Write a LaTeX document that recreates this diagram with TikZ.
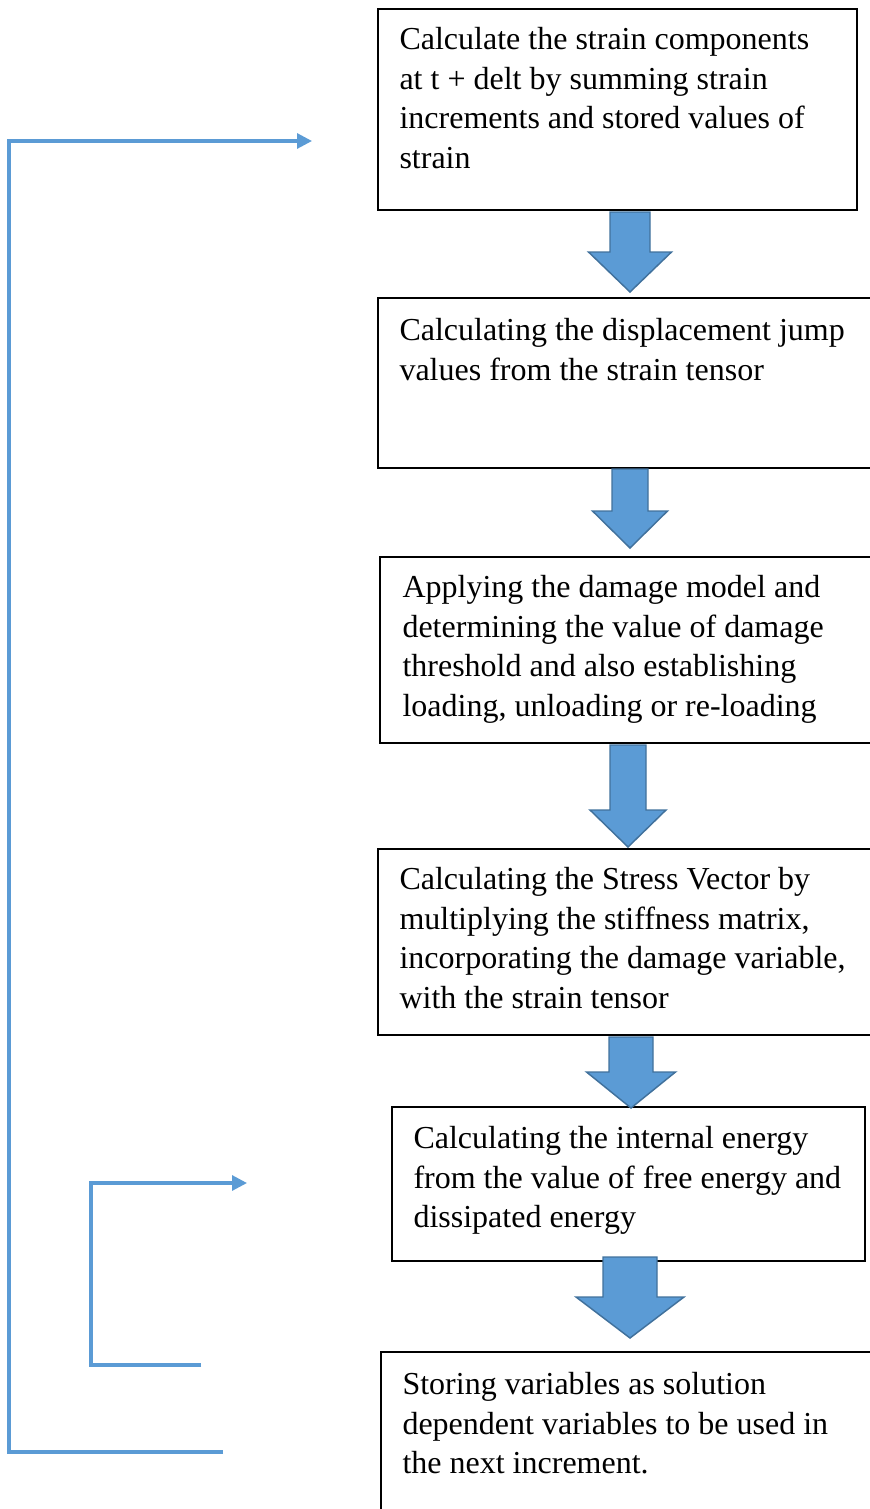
\documentclass[tikz,border=0pt]{standalone}
\usepackage{fontspec}
\setmainfont{Liberation Serif}
\usetikzlibrary{
    arrows.meta,    % arrow tips
    positioning,    % relative placement
    calc            % coordinate arithmetic
}
\newlength{\pxu}
\setlength{\pxu}{0.375pt}
\definecolor{flowblue}{HTML}{5B9BD5}
\definecolor{flowedge}{HTML}{41719C}
% block arrow: centre x, top, head y, tip, shaft half width, head half width
\newcommand{\blockarrow}[6]{%
    \draw[blockstyle] (#1-#5,#2) -- (#1+#5,#2) -- (#1+#5,#3) -- (#1+#6,#3)
        -- (#1,#4) -- (#1-#6,#3) -- (#1-#5,#3) -- cycle;}

\begin{document}
\begin{tikzpicture}[
    x=\pxu, y=-\pxu,
    flowbox/.style={draw=black, line width=0.6pt, anchor=north west,
        inner sep=0pt, outer sep=0pt},
    boxtext/.style={anchor=north west, inner sep=0pt, align=left,
        font=\fontsize{12}{14.8}\selectfont},
    blockstyle/.style={fill=flowblue, draw=flowedge, line width=0.55pt},
    loopline/.style={draw=flowblue, line width=1.15pt,
        -{Triangle[length=5.6pt,width=5.6pt]}}
]
    \useasboundingbox (0,0) rectangle (869,1509);

    % boxes of the flow
    \node[flowbox, line width=0.8pt, minimum width=479\pxu, minimum height=201\pxu] (box1) at (378,9) {};
    \node[flowbox, minimum width=500\pxu, minimum height=170\pxu] (box2) at (378,298) {};
    \node[flowbox, minimum width=500\pxu, minimum height=186\pxu] (box3) at (380,557) {};
    \node[flowbox, minimum width=500\pxu, minimum height=186\pxu] (box4) at (378,849) {};
    \node[flowbox, minimum width=473\pxu, minimum height=154\pxu] (box5) at (392,1107) {};
    \node[flowbox, minimum width=500\pxu, minimum height=180\pxu] (box6) at (381,1352) {};

    % texts in the boxes
    \node[boxtext] (text1) at ($(box1.north west)+(21,18)$)
        {Calculate the strain components\\at t + delt by summing strain\\increments and stored values of\\strain};
    \node[boxtext] (text2) at ($(box2.north west)+(21,20)$)
        {Calculating the displacement jump\\values from the strain tensor};
    \node[boxtext] (text3) at ($(box3.north west)+(22,18)$)
        {Applying the damage model and\\determining the value of damage\\threshold and also establishing\\loading, unloading or re-loading};
    \node[boxtext] (text4) at ($(box4.north west)+(21,18)$)
        {Calculating the Stress Vector by\\multiplying the stiffness matrix,\\incorporating the damage variable,\\with the strain tensor};
    \node[boxtext] (text5) at ($(box5.north west)+(21,19)$)
        {Calculating the internal energy\\from the value of free energy and\\dissipated energy};
    \node[boxtext] (text6) at ($(box6.north west)+(21,20)$)
        {Storing variables as solution\\dependent variables to be used in\\the next increment.};

    % block arrows between the boxes
    \blockarrow{630}{212}{252}{292}{20}{41.5}
    \blockarrow{630}{469}{511}{548}{18}{37.5}
    \blockarrow{628}{745}{810}{847}{18}{38}
    \blockarrow{631}{1037}{1072}{1108}{22}{44.5}
    \blockarrow{630}{1257}{1297}{1338}{27}{54}

    % feedback lines
    \coordinate (outerS) at (223,1452);
    \coordinate (outerC) at (9,141);
    \coordinate (outerE) at (312,141);
    \draw[loopline] (outerS) -| (outerC) -- (outerE);

    \coordinate (innerS) at (201,1365);
    \coordinate (innerC) at (91,1183);
    \coordinate (innerE) at (247,1183);
    \draw[loopline] (innerS) -| (innerC) -- (innerE);
\end{tikzpicture}
\end{document}
